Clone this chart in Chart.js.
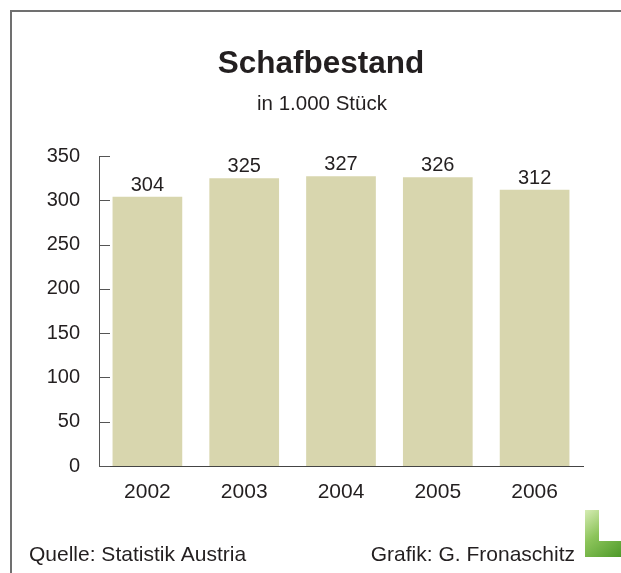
<!DOCTYPE html>
<html>
<head>
<meta charset="utf-8">
<script src="https://cdn.jsdelivr.net/npm/chart.js@4.4.1/dist/chart.umd.min.js"></script>
<style>
  html, body { margin: 0; padding: 0; background: #fff; }
  canvas { display: block; }
</style>
</head>
<body>
<canvas id="chart" width="621" height="573"></canvas>
<script>
// data
const years = ['2002', '2003', '2004', '2005', '2006'];
const sheep = [304, 325, 327, 326, 312];
const yTicks = [0, 50, 100, 150, 200, 250, 300, 350];

const font = "'Liberation Sans', Arial, Helvetica, sans-serif";
const textColor = '#231f20';

// frame, titles, footer texts and logo
const decor = {
    id: 'decor',
    beforeDraw(chart) {
        let ctx = chart.ctx;
        ctx.save();
        ctx.strokeStyle = '#707070';
        ctx.lineWidth = 2;
        ctx.beginPath();
        ctx.moveTo(11, 573);
        ctx.lineTo(11, 11);
        ctx.lineTo(621, 11);
        ctx.stroke();
        ctx.restore();
    },
    afterDraw(chart) {
        let ctx = chart.ctx;
        ctx.save();
        ctx.fillStyle = textColor;
        ctx.textBaseline = 'alphabetic';
        ctx.textAlign = 'center';
        ctx.font = 'bold 31.5px ' + font;
        ctx.fillText('Schafbestand', 321, 73);
        ctx.font = '20.5px ' + font;
        ctx.fillText('in 1.000 Stück', 322, 110);

        ctx.font = '21px ' + font;
        ctx.textAlign = 'left';
        ctx.fillText('Quelle: Statistik Austria', 29, 561);
        ctx.textAlign = 'right';
        ctx.fillText('Grafik: G. Fronaschitz', 575, 561);

        // green "L" logo
        let g = ctx.createLinearGradient(585, 510, 621, 557);
        g.addColorStop(0, '#d6ecb4');
        g.addColorStop(0.45, '#8cc45a');
        g.addColorStop(1, '#4e9a2a');
        ctx.fillStyle = g;
        ctx.beginPath();
        ctx.moveTo(585, 510);
        ctx.lineTo(599, 510);
        ctx.lineTo(599, 541);
        ctx.lineTo(621, 541);
        ctx.lineTo(621, 557);
        ctx.lineTo(585, 557);
        ctx.closePath();
        ctx.fill();

        // inward tick marks on the y axis
        let y = chart.scales.y;
        ctx.strokeStyle = '#555';
        ctx.lineWidth = 1;
        yTicks.forEach(v => {
            let py = Math.round(y.getPixelForValue(v)) + 0.5;
            ctx.beginPath();
            ctx.moveTo(y.right, py);
            ctx.lineTo(y.right + 11, py);
            ctx.stroke();
        });
        ctx.restore();
    },
    afterDatasetsDraw(chart) {
        let ctx = chart.ctx;
        ctx.save();
        ctx.fillStyle = textColor;
        ctx.font = '20px ' + font;
        ctx.textAlign = 'center';
        ctx.textBaseline = 'alphabetic';
        chart.getDatasetMeta(0).data.forEach((bar, i) => {
            ctx.fillText(String(sheep[i]), bar.x, bar.y - 6);
        });
        ctx.restore();
    }
};

new Chart(document.getElementById('chart'), {
    type: 'bar',
    data: {
        labels: years,
        datasets: [{
            label: 'Schafbestand',
            data: sheep,
            backgroundColor: '#d8d6ae',
            borderWidth: 0,
            barPercentage: 0.72,
            categoryPercentage: 1
        }]
    },
    options: {
        responsive: false,
        animation: false,
        layout: { padding: { top: 156, left: 0, right: 38, bottom: 0 } },
        plugins: {
            legend: { display: false },
            tooltip: { enabled: false },
            title: { display: false },
            subtitle: { display: false }
        },
        scales: {
            x: {
                grid: { display: false },
                border: { display: true, color: '#444', width: 1 },
                ticks: { color: textColor, font: { family: font, size: 21 }, padding: 6 },
                afterFit(scale) { scale.height = 107; }
            },
            y: {
                min: 0,
                max: 350,
                afterBuildTicks(scale) { scale.ticks = yTicks.map(v => ({ value: v })); },
                grid: { display: false, drawTicks: false },
                border: { display: true, color: '#555', width: 1 },
                ticks: { color: textColor, font: { family: font, size: 20 }, padding: 19 },
                afterFit(scale) { scale.width = 99; }
            }
        }
    },
    plugins: [decor]
});
</script>
</body>
</html>
